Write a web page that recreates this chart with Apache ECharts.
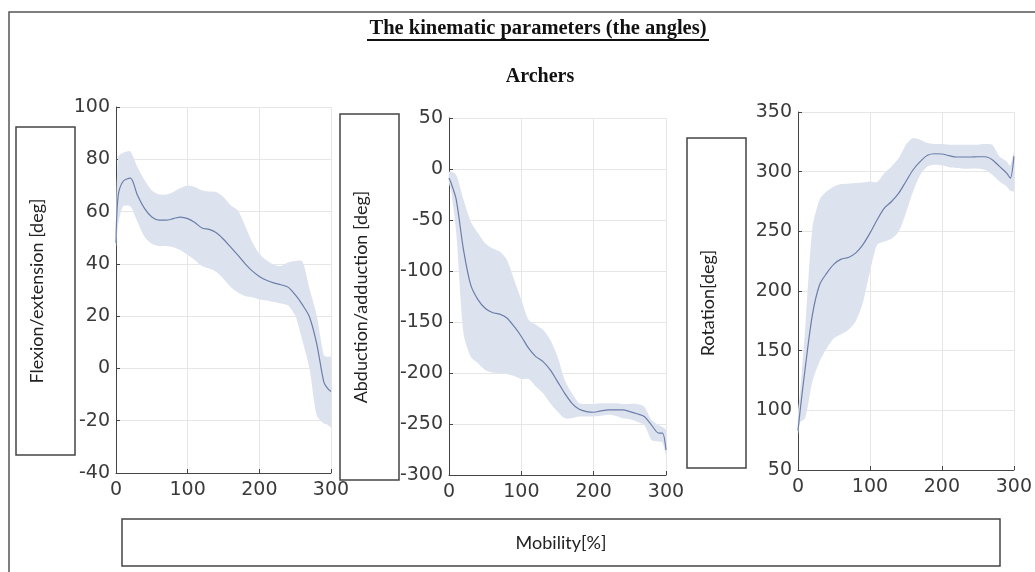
<!DOCTYPE html>
<html>
<head>
<meta charset="utf-8">
<script src="https://cdn.jsdelivr.net/npm/echarts@6/dist/echarts.min.js"></script>
<style>
  html, body { margin: 0; padding: 0; background: #fff; }
  #main { width: 1035px; height: 572px; }
</style>
</head>
<body>
<div id="main"></div>
<script>
var chartDom = document.getElementById('main');
var myChart = echarts.init(chartDom);
var option;

// mobility [%], sampled every 10 (plus the steep ends)
const mobility = [0, 3, 10, 20, 30, 40, 50, 60, 70, 80, 90, 100, 110, 120, 130, 140, 150,
  160, 170, 180, 190, 200, 210, 220, 230, 240, 250, 260, 270, 280, 290, 295, 300];

// flexion / extension [deg]
const flexMean = [48, 66, 71.6, 72.8, 66.2, 61.1, 57.9, 56.7, 56.7, 57.3, 57.9, 57.3, 55.8, 53.7, 53.2, 51.9, 49.4,
  46.4, 43.3, 40.1, 37.3, 35.2, 33.7, 32.7, 32.0, 31.1, 28.2, 24.4, 19.7, 9.5, -5.2, -7.5, -8.8];
const flexUpper = [55, 81, 82.5, 83, 77, 72, 68.1, 66.6, 66.5, 67.5, 69, 70, 69.4, 68.1, 67.7, 67.5, 65.6,
  62.4, 60.5, 54.7, 48.4, 43.9, 41.4, 39.7, 39.2, 40.5, 41.1, 41, 30.5, 20.3, 5, 4.4, 4.4];
const flexLower = [46, 55, 62, 62, 56, 50.3, 47.7, 46.8, 46.8, 46.4, 45.2, 43.5, 41.4, 39.2, 38.2, 36.9, 34.3,
  31.1, 29.0, 27.7, 27.2, 26.4, 26, 25.4, 24.8, 24.1, 20.3, 10.7, -0.1, -17.9, -21.1, -21.5, -22.4];

// abduction / adduction [deg]
const abdMean = [-8.9, -14, -30, -79, -113.6, -128, -136.5, -140.7, -142.3, -146, -154.4, -164.2, -175.7, -183.9, -188.8, -197, -208.4,
  -219.9, -229.7, -235.6, -237.8, -238.5, -237.2, -236.2, -236.2, -236.2, -237.8, -240, -242.7, -251, -259, -259, -275.5];
const abdUpper = [-3, -2.5, -5.6, -30, -51.4, -62.8, -72.7, -77.6, -81, -89, -108.6, -128.3, -147.9, -152.8, -157.7, -167.5, -183.9,
  -206.8, -219.9, -229.7, -230.3, -230.3, -229.7, -229.7, -229.7, -230.3, -230.3, -230.3, -233, -246, -251, -253, -256];
const abdLower = [-13.8, -22, -62.8, -161, -184, -190.4, -197, -199.6, -200.2, -200.9, -202.9, -206, -206, -213.3, -219.9, -229.7, -237.8,
  -244.4, -244.4, -242.7, -242.7, -242.7, -242, -241, -242, -244.4, -245.4, -247.7, -251, -265.7, -267.3, -268, -280];

// rotation [deg]
const rotMean = [83, 100, 135.3, 180, 205.2, 215, 222.5, 226.7, 228.1, 231.7, 238.7, 248.5, 259.7, 269.5, 275, 282, 291.8,
  301.6, 308.6, 313.7, 315, 314.8, 313.4, 312.3, 312.3, 312.3, 312.5, 312.5, 310, 304.4, 298.8, 294.6, 312.8];
const rotUpper = [99, 115, 169, 252.7, 276.5, 283.5, 287.6, 289.6, 289.9, 290.4, 291, 291.8, 291.3, 298.8, 304.4, 311.4, 322.6,
  328.2, 326.8, 324, 323.2, 323.2, 322.6, 322.6, 322.6, 322.6, 322.6, 323.2, 322.6, 312.8, 308.6, 305, 316];
const rotLower = [80, 90, 93.3, 124.1, 140.9, 152, 160.4, 163.8, 167.4, 174.4, 189.8, 216.4, 238.7, 241.5, 243.8, 249.9, 265.3,
  283.5, 297.4, 304.4, 305.8, 305.3, 303.6, 303, 302.5, 302.5, 302.5, 301.6, 297.4, 291.8, 287.6, 284, 283.5];

const panels = [
  { mean: flexMean, upper: flexUpper, lower: flexLower, min: -40, max: 100, interval: 20,
    grid: { left: 116, top: 107, width: 215, height: 366 } },
  { mean: abdMean, upper: abdUpper, lower: abdLower, min: -300, max: 50, interval: 50,
    grid: { left: 449, top: 118, width: 217, height: 357 } },
  { mean: rotMean, upper: rotUpper, lower: rotLower, min: 50, max: 350, interval: 50,
    grid: { left: 798, top: 112, width: 218, height: 358 } }
];

const tickFont = { fontFamily: '"DejaVu Sans", sans-serif', fontSize: 19, color: '#3a3a3a' };
const bandColor = '#dde3ee';
const lineColor = '#6b7ea9';

function pairs(ys) {
  return mobility.map(function (x, i) { return [x, ys[i]]; });
}

// shaded band between lower and upper, drawn as one polygon through the axis scales
function bandRenderer(p) {
  return function (params, api) {
    if (params.dataIndex !== 0) return;
    const pts = [];
    mobility.forEach(function (x, i) { pts.push(api.coord([x, p.upper[i]])); });
    for (let i = mobility.length - 1; i >= 0; i--) pts.push(api.coord([mobility[i], p.lower[i]]));
    return {
      type: 'polygon',
      shape: { points: pts, smooth: 0.25 },
      style: { fill: bandColor, stroke: null }
    };
  };
}

const grids = [], xAxes = [], yAxes = [], series = [];
panels.forEach(function (p, k) {
  grids.push(p.grid);
  xAxes.push({
    type: 'value', gridIndex: k, min: 0, max: 300, interval: 100,
    axisLine: { onZero: false, lineStyle: { color: '#444', width: 1 } },
    axisTick: { inside: true, length: 4, lineStyle: { color: '#444' } },
    axisLabel: Object.assign({ margin: 8 }, tickFont),
    splitLine: { show: true, lineStyle: { color: '#e6e6e6', width: 1 } }
  });
  yAxes.push({
    type: 'value', gridIndex: k, min: p.min, max: p.max, interval: p.interval,
    axisLine: { show: true, onZero: false, lineStyle: { color: '#444', width: 1 } },
    axisTick: { show: true, inside: true, length: 4, lineStyle: { color: '#444' } },
    axisLabel: Object.assign({ margin: 6 }, tickFont),
    splitLine: { show: true, lineStyle: { color: '#e6e6e6', width: 1 } }
  });
  series.push({
    type: 'custom', xAxisIndex: k, yAxisIndex: k,
    data: mobility.map(function (x, i) { return [x, p.lower[i], p.upper[i]]; }),
    encode: { x: 0, y: [1, 2] },
    renderItem: bandRenderer(p), silent: true, z: 1
  });
  series.push({
    type: 'line', xAxisIndex: k, yAxisIndex: k, data: pairs(p.mean),
    symbol: 'none', smooth: 0.3, z: 2,
    lineStyle: { color: lineColor, width: 1.2 }
  });
});

function labelBox(x, y, w, h, text) {
  return [
    { type: 'rect', shape: { x: x, y: y, width: w, height: h },
      style: { fill: '#fff', stroke: '#444', lineWidth: 1.5 }, z: 1 },
    { type: 'text', x: x + 21, y: y + h / 2, rotation: Math.PI / 2,
      style: { text: text, font: '18px Lato, "Open Sans", sans-serif', fill: '#222',
        textAlign: 'center', textVerticalAlign: 'middle' }, z: 2 }
  ];
}

option = {
  animation: false,
  backgroundColor: '#fff',
  grid: grids,
  xAxis: xAxes,
  yAxis: yAxes,
  series: series,
  graphic: [
    { type: 'polyline', shape: { points: [[9, 572], [9, 12], [1035, 12]] },
      style: { stroke: '#555', lineWidth: 1.5, fill: null } },
    { type: 'text', x: 538, y: 29,
      style: { text: 'The kinematic parameters (the angles)', font: 'bold 20.5px "Liberation Serif", serif',
        fill: '#111', textAlign: 'center', textVerticalAlign: 'middle' } },
    { type: 'line', shape: { x1: 367, y1: 40, x2: 709, y2: 40 }, style: { stroke: '#111', lineWidth: 1.8 } },
    { type: 'text', x: 540, y: 77,
      style: { text: 'Archers', font: 'bold 20px "Liberation Serif", serif',
        fill: '#111', textAlign: 'center', textVerticalAlign: 'middle' } }
  ].concat(
    labelBox(16, 127, 59, 328, 'Flexion/extension [deg]'),
    labelBox(340, 114, 59, 366, 'Abduction/adduction [deg]'),
    labelBox(687, 138, 59, 330, 'Rotation[deg]'),
    [
      { type: 'rect', shape: { x: 122, y: 519, width: 878, height: 47 },
        style: { fill: '#fff', stroke: '#444', lineWidth: 1.5 } },
      { type: 'text', x: 561, y: 543,
        style: { text: 'Mobility[%]', font: '18px Lato, "Open Sans", sans-serif', fill: '#222',
          textAlign: 'center', textVerticalAlign: 'middle' } }
    ]
  )
};

option && myChart.setOption(option);
</script>
</body>
</html>
